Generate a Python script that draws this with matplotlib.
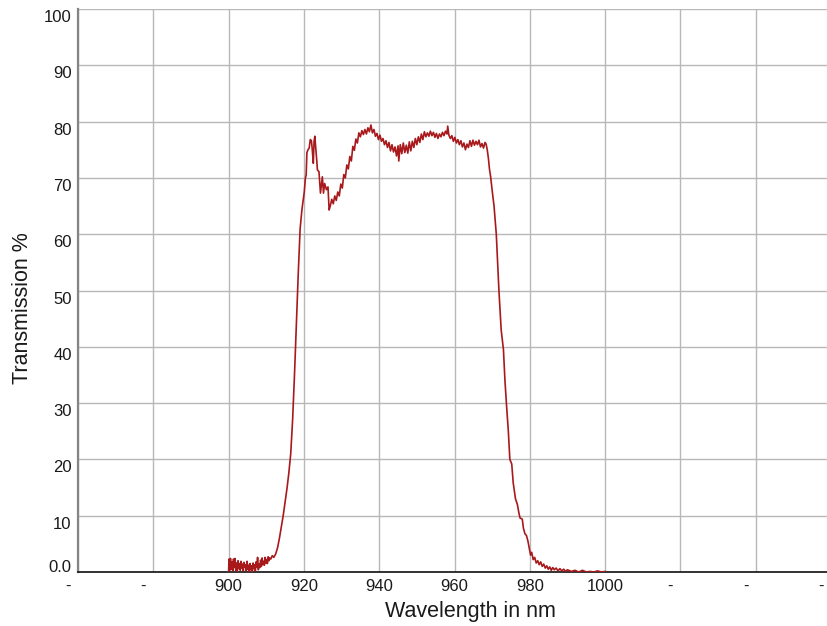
import matplotlib
matplotlib.use('Agg')
import matplotlib.pyplot as plt
from matplotlib.transforms import ScaledTranslation

plt.rcParams['font.family'] = ['Liberation Sans', 'DejaVu Sans']

# transmission curve (wavelength in nm, transmission in %)
wavelength = [
    900.0, 900.1, 900.3, 900.5, 900.7, 900.9, 901.1, 901.3, 901.5, 901.7, 901.9,
    902.1, 902.3, 902.5, 902.7, 902.9, 903.1, 903.3, 903.5, 903.7, 903.9,
    904.1, 904.3, 904.5, 904.7, 904.9, 905.1, 905.3, 905.5, 905.7, 905.9,
    906.1, 906.3, 906.5, 906.7, 906.9, 907.1, 907.3, 907.5, 907.7, 907.9,
    908.1, 908.3, 908.5, 908.7, 908.9, 909.1, 909.3, 909.5, 909.7, 909.9,
    910.1, 910.3, 910.5, 910.7, 910.9, 911.2, 911.6, 912.0, 912.5, 913.0,
    913.5, 914.0, 914.5, 915.0, 915.5, 916.0, 916.5, 917.0, 917.5, 918.0,
    918.5, 919.0, 919.5, 919.8, 920.1, 920.4, 920.6, 920.8, 921.1, 921.4,
    921.7, 922.0, 922.2, 922.5, 922.7, 922.9, 923.2, 923.4, 923.6, 924.0,
    924.4, 924.9, 925.2, 925.5, 926.0, 926.4, 926.7,
    927.0, 927.4, 927.8, 928.2, 928.6, 929.0, 929.4, 929.8, 930.2, 930.6,
    931.0, 931.4, 931.8, 932.2, 932.6, 933.0, 933.4, 933.8, 934.2, 934.6,
    935.0, 935.4, 935.8, 936.2, 936.6, 937.0, 937.4, 937.8, 938.2, 938.6,
    939.0, 939.4, 939.8, 940.2, 940.6, 941.0, 941.4, 941.8, 942.2, 942.6,
    943.0, 943.4, 943.8, 944.2, 944.6, 945.0, 945.2, 945.6, 946.0, 946.4,
    946.8, 947.2, 947.6, 948.0, 948.4, 948.8, 949.2, 949.6, 950.0, 950.4,
    950.8, 951.2, 951.6, 952.0, 952.4, 952.8, 953.2, 953.6, 954.0, 954.4,
    954.8, 955.2, 955.6, 956.0, 956.4, 956.8, 957.2, 957.6, 958.0, 958.2,
    958.5, 958.9, 959.3, 959.7, 960.1, 960.5, 960.9, 961.3, 961.7, 962.1,
    962.5, 962.9, 963.3, 963.7, 964.1, 964.5, 964.9, 965.3, 965.7, 966.1,
    966.5, 966.9, 967.3, 967.7, 968.1, 968.4, 968.7, 969.0, 969.3, 969.6,
    970.0, 970.5, 971.1, 971.8, 972.4, 973.0, 973.4, 973.8, 974.3, 974.7,
    975.2, 975.6, 976.2, 976.7, 977.1, 977.4, 978.0, 978.3, 978.7, 979.1,
    979.5, 979.8, 980.2, 980.5, 980.9, 981.3, 981.7, 982.1, 982.5, 982.9,
    983.3, 983.7, 984.1, 984.5, 984.9, 985.3, 985.7, 986.1, 986.5, 987.0,
    987.5, 988.0, 988.5, 989.0, 989.5, 990.0, 991.0, 992.0, 993.0, 994.0,
    995.0, 996.0, 997.0, 998.0, 999.0, 1000.0,
]
transmission = [
    0.0, 2.3, 0.3, 2.4, 0.5, 1.8, 0.2, 2.3, 0.8, 2.4, 0.3,
    1.6, 0.1, 2.0, 0.6, 1.5, 0.3, 1.9, 0.7, 1.4, 0.2,
    1.7, 0.9, 1.3, 0.2, 1.9, 0.5, 1.2, 0.0, 1.5, 0.4,
    1.1, 0.1, 1.6, 0.6, 1.3, 0.2, 1.8, 0.9, 2.6, 0.4,
    1.4, 0.8, 2.1, 1.0, 2.5, 1.3, 1.9, 1.2, 2.6, 1.6,
    2.2, 1.5, 2.7, 2.0, 2.5, 2.3, 2.9, 2.6, 3.2, 4.3,
    6.0, 8.0, 10.0, 12.4, 14.8, 17.6, 21.0, 27.0, 35.0, 44.0,
    53.0, 61.0, 64.5, 66.0, 67.5, 70.0, 70.5, 74.5, 75.0, 75.3,
    76.8, 76.6, 75.2, 72.6, 76.5, 77.4, 75.0, 73.2, 71.4, 71.1,
    67.3, 70.2, 67.3, 69.0, 67.9, 68.4, 64.3,
    65.0, 66.2, 65.4, 66.8, 66.0, 67.5, 66.8, 68.9, 68.2, 70.6,
    70.0, 72.3, 71.6, 73.8, 73.0, 75.6, 74.9, 76.9, 76.2, 78.0,
    77.3, 78.4, 77.7, 78.6, 77.8, 78.9, 78.2, 79.4, 78.0, 78.6,
    77.4, 77.9, 76.8, 77.6, 76.5, 77.0, 75.9, 76.6, 75.4, 76.3,
    74.8, 75.9, 74.6, 75.5, 73.9, 75.7, 73.0, 75.9, 74.3, 76.2,
    74.5, 75.8, 74.4, 76.4, 74.8, 76.5, 75.4, 77.0, 75.9, 77.3,
    76.3, 77.8, 76.8, 78.2, 77.3, 78.0, 77.4, 78.3, 77.5, 78.1,
    77.2, 77.9, 77.0, 77.8, 77.3, 78.1, 77.5, 78.3, 77.8, 79.2,
    77.6, 77.0, 77.5, 76.5, 77.2, 76.2, 76.8, 75.9, 76.6, 75.5,
    76.2, 75.0, 76.0, 75.4, 76.6, 75.6, 76.7, 75.8, 76.5, 75.9,
    76.7, 75.5, 76.1, 75.3, 76.3, 76.0, 75.0, 73.5, 71.5, 70.2,
    67.8, 65.0, 60.0, 50.0, 43.0, 39.5, 34.0, 29.8, 25.0, 20.0,
    19.2, 15.8, 13.0, 12.0, 10.5, 9.6, 9.4, 7.8, 6.8, 6.5,
    5.5, 4.4, 3.0, 3.5, 2.2, 2.6, 1.6, 2.0, 1.3, 1.8,
    1.0, 1.4, 0.7, 1.1, 0.5, 0.9, 0.3, 0.8, 0.4, 0.7,
    0.2, 0.6, 0.2, 0.5, 0.1, 0.4, 0.1, 0.3, 0.0, 0.3,
    0.0, 0.1, 0.0, 0.2, 0.0, 0.1,
]

x_ticks = [860, 880, 900, 920, 940, 960, 980, 1000, 1020, 1040, 1060]
x_labels = ['-', '-', '900', '920', '940', '960', '980', '1000', '-', '-', '-']
y_ticks = [0, 10, 20, 30, 40, 50, 60, 70, 80, 90, 100]
y_labels = ['0.0', '10', '20', '30', '40', '50', '60', '70', '80', '90', '100']

fig = plt.figure(figsize=(8.27, 6.26), dpi=100)
ax = fig.add_axes([78 / 827, 54 / 626, 753 / 827, 563 / 626])

ax.plot(wavelength, transmission, color='#a8191c', lw=1.2, zorder=3)

ax.set_xlim(860, 1060)
ax.set_ylim(0, 100)
ax.set_xticks(x_ticks)
ax.set_xticklabels(x_labels, fontsize=12, color='#1a1a1a')
ax.set_yticks(y_ticks)
ax.set_yticklabels(y_labels, fontsize=12, color='#1a1a1a')
ax.tick_params(axis='x', length=0, pad=5)
ax.tick_params(axis='y', length=0, pad=4.5)
ax.grid(True, color='#b8b8b8', lw=1.0)
ax.set_axisbelow(True)

for side in ['top', 'right']:
    ax.spines[side].set_visible(False)
ax.spines['left'].set_color('#858585')
ax.spines['left'].set_linewidth(1.6)
ax.spines['bottom'].set_color('#111111')
ax.spines['bottom'].set_linewidth(1.2)

# the dashes sit a bit left of their gridlines, y labels sit under theirs
for lab in ax.get_xticklabels():
    if lab.get_text() == '-':
        lab.set_transform(lab.get_transform() + ScaledTranslation(-0.1, 0, fig.dpi_scale_trans))
for lab in ax.get_yticklabels():
    dy = 0.06 if lab.get_text() == '0.0' else -0.07
    lab.set_transform(lab.get_transform() + ScaledTranslation(0, dy, fig.dpi_scale_trans))

fig.text(470 / 827, 1 - 611 / 626, 'Wavelength in nm', ha='center', va='center',
         fontsize=15.5, color='#1a1a1a')
fig.text(23 / 827, 1 - 308 / 626, 'Transmission %', ha='center', va='center',
         rotation=90, fontsize=15.5, color='#1a1a1a')

fig.savefig('out.png', dpi=100)
